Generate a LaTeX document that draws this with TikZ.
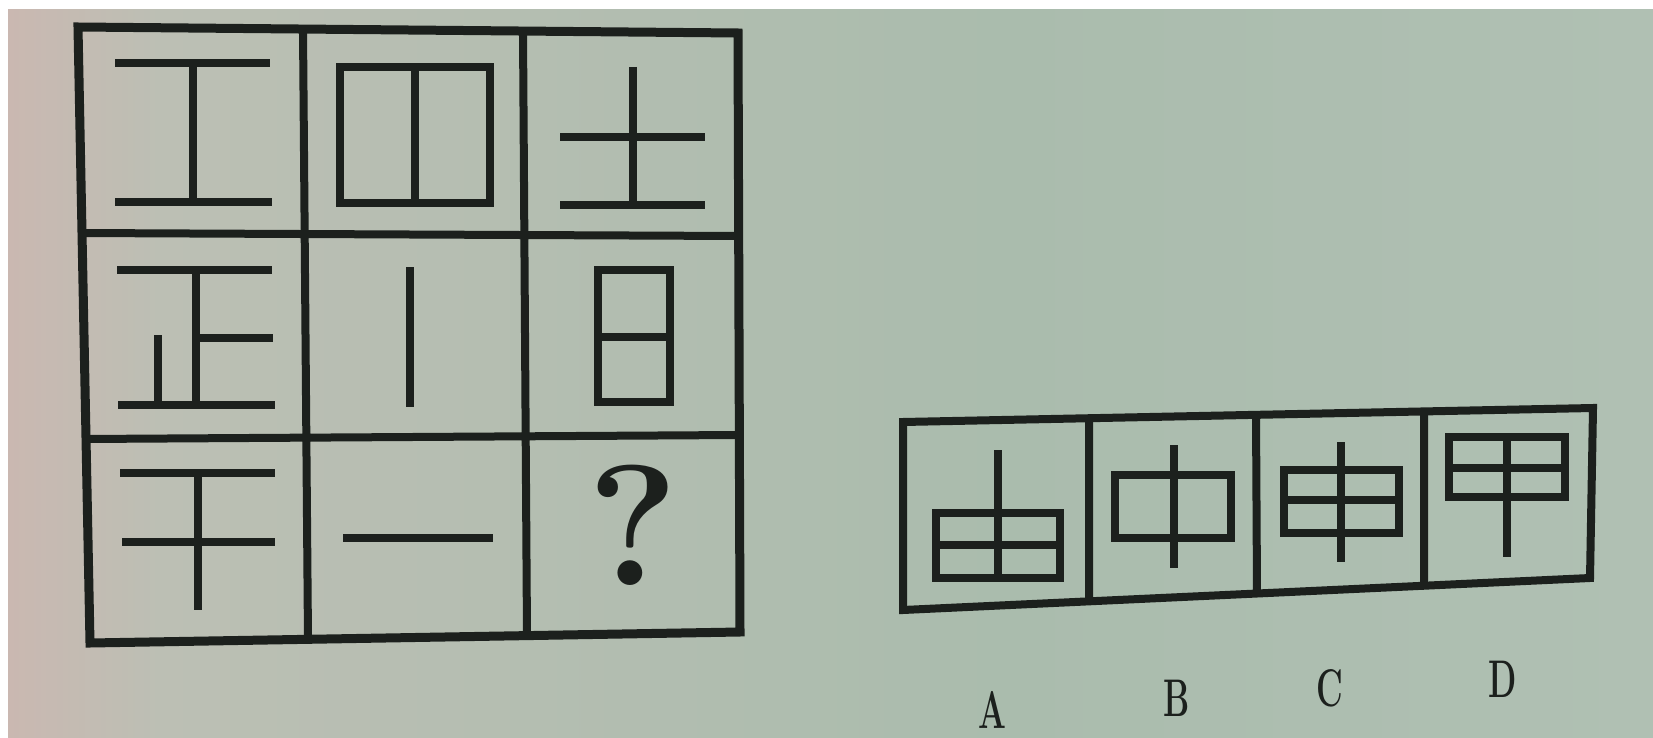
\documentclass[tikz,border=0pt]{standalone}
\usepackage{tikz}
\usetikzlibrary{positioning}
\definecolor{ink}{RGB}{28,32,29}
\definecolor{paperpink}{RGB}{202,184,177}
\definecolor{papergray}{RGB}{188,191,180}
\definecolor{papergreen}{RGB}{170,188,173}
\definecolor{paperlight}{RGB}{176,192,179}
\tikzset{
    frame/.style={draw=ink, line width=9pt, line join=miter},
    rule/.style={draw=ink, line width=8pt},
    stroke/.style={draw=ink, line width=7.5pt},
    letter/.style={inner sep=0pt, text=ink, font=\fontsize{53}{53}\selectfont\bfseries}
}

\begin{document}
\begin{tikzpicture}[x=1pt, y=-1pt]
        \useasboundingbox (0,0) rectangle (1653,738);
        % paper of the photo
        \fill[white] (0,0) rectangle (1653,738);
        \shade[left color=paperpink, right color=papergray] (8,10) rectangle (160,738);
        \shade[left color=papergray, right color=papergreen] (160,10) rectangle (1000,738);
        \shade[left color=papergreen, right color=paperlight] (1000,10) rectangle (1653,738);

        % 3x3 grid
        \coordinate (g-tl) at (78,27);
        \coordinate (g-tr) at (738,33);
        \coordinate (g-br) at (740,632);
        \coordinate (g-bl) at (90,643);
        \coordinate (v1-t) at (303,30);
        \coordinate (v1-b) at (308,640);
        \coordinate (v2-t) at (523,32);
        \coordinate (v2-b) at (527,636);
        \coordinate (h1-l) at (80,233);
        \coordinate (h1-r) at (739,236);
        \coordinate (h2-l) at (85,439);
        \coordinate (h2-r) at (739,435);
        \draw[rule] (v1-t) -- (v1-b) (v2-t) -- (v2-b) (h1-l) -- (h1-r) (h2-l) -- (h2-r);
        \draw[frame] (g-tl) -- (g-tr) -- (g-br) -- (g-bl) -- cycle;

        % first row
        \draw[stroke] (115,63) -- (270,63) (193,63) -- (193,202) (115,202) -- (272,202);
        \draw[stroke] (340,67) rectangle (490,203) (415,67) -- (415,203);
        \draw[stroke] (633,67) -- (633,205) (560,137) -- (705,137) (560,205) -- (705,205);
        % second row
        \draw[stroke] (117,270) -- (272,270) (196,270) -- (196,405) (196,338) -- (273,338)
            (158,335) -- (158,405) (118,405) -- (275,405);
        \draw[stroke] (410,267) -- (410,407);
        \draw[stroke] (598,270) rectangle (670,402) (598,337) -- (670,337);
        % third row
        \draw[stroke] (120,473) -- (275,473) (122,542) -- (275,542) (198,473) -- (198,610);
        \draw[stroke] (343,538) -- (493,538);
        \node[inner sep=0pt, text=ink, font=\fontsize{172}{172}\selectfont\bfseries] (ask) at (633,525) {?};

        % answer strip
        \coordinate (o-tl) at (903,422);
        \coordinate (o-tr) at (1593,408);
        \coordinate (o-br) at (1590,578);
        \coordinate (o-bl) at (903,610);
        \coordinate (d1-t) at (1089,418);
        \coordinate (d1-b) at (1089,601);
        \coordinate (d2-t) at (1256,415);
        \coordinate (d2-b) at (1257,593);
        \coordinate (d3-t) at (1424,411);
        \coordinate (d3-b) at (1424,585);
        \draw[rule] (d1-t) -- (d1-b) (d2-t) -- (d2-b) (d3-t) -- (d3-b);
        \draw[frame, line width=8pt] (o-tl) -- (o-tr) -- (o-br) -- (o-bl) -- cycle;

        \draw[stroke] (936,513) rectangle (1060,578) (936,545) -- (1060,545) (998,450) -- (998,578); % A
        \draw[stroke] (1115,475) rectangle (1231,538) (1174,445) -- (1174,568); % B
        \draw[stroke] (1284,470) rectangle (1399,533) (1284,500) -- (1399,500) (1341,442) -- (1341,562); % C
        \draw[stroke] (1449,437) rectangle (1565,497) (1449,468) -- (1565,468) (1507,437) -- (1507,557); % D

        \node[letter] (lab-a) at (992,710) {\scalebox{0.62}[1]{A}};
        \node[letter] (lab-b) at (1177,698) {\scalebox{0.62}[1]{B}};
        \node[letter] (lab-c) at (1330,688) {\scalebox{0.62}[1]{C}};
        \node[letter] (lab-d) at (1503,679) {\scalebox{0.62}[1]{D}};
\end{tikzpicture}
\end{document}
